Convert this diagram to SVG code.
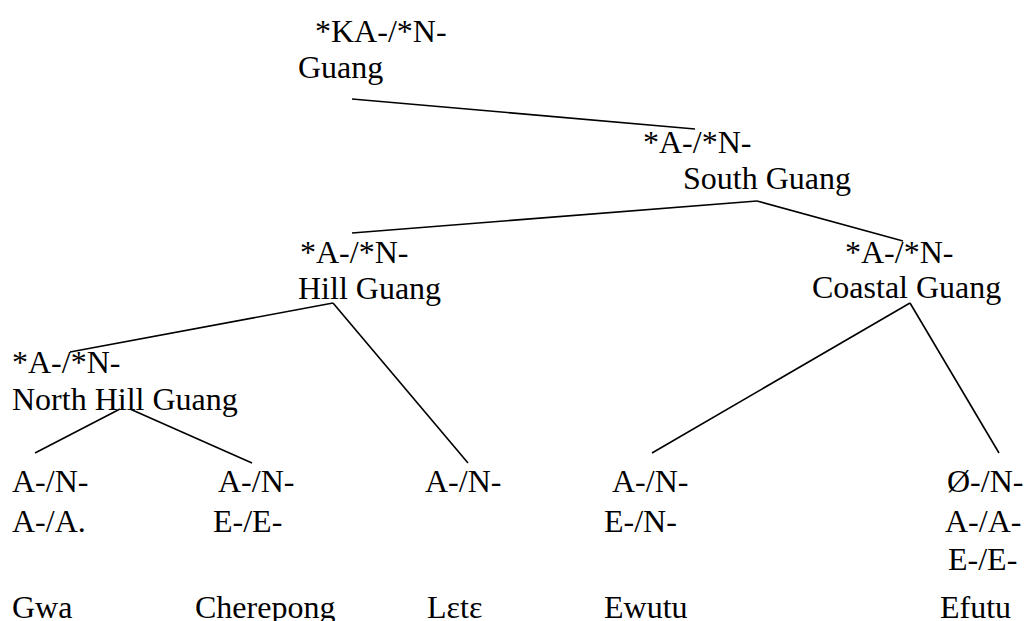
<svg xmlns="http://www.w3.org/2000/svg" width="1024" height="621" viewBox="0 0 1024 621">
<style>
text{font-family:"Liberation Serif","Times New Roman",serif;font-size:32px;fill:#000}
line{stroke:#000;stroke-width:1.6}
</style>
<rect width="1024" height="621" fill="#fff"/>
<g id="connectors">
<line x1="352" y1="99" x2="695" y2="129"/>
<line x1="757" y1="201" x2="352" y2="233"/>
<line x1="757" y1="201" x2="903" y2="241"/>
<line x1="333" y1="303" x2="70" y2="352"/>
<line x1="333" y1="303" x2="468" y2="463"/>
<line x1="910" y1="303" x2="652" y2="453"/>
<line x1="910" y1="303" x2="999" y2="453"/>
<line x1="120" y1="409" x2="35" y2="453"/>
<line x1="130" y1="409" x2="252" y2="463"/>
</g>
<g id="guang"><text x="315" y="42">*KA-/*N-</text><text x="298" y="78">Guang</text></g>
<g id="south-guang"><text x="643" y="153">*A-/*N-</text><text x="683" y="189">South Guang</text></g>
<g id="hill-guang"><text x="300" y="263">*A-/*N-</text><text x="298" y="299">Hill Guang</text></g>
<g id="coastal-guang"><text x="845" y="263">*A-/*N-</text><text x="812" y="298">Coastal Guang</text></g>
<g id="north-hill-guang"><text x="12" y="373">*A-/*N-</text><text x="12" y="410">North Hill Guang</text></g>
<g id="gwa"><text x="12" y="492">A-/N-</text><text x="12" y="532">A-/A.</text><text x="12" y="618">Gwa</text></g>
<g id="cherepong"><text x="218" y="492">A-/N-</text><text x="213" y="532">E-/E-</text><text x="195" y="618">Cherepong</text></g>
<g id="lete"><text x="425" y="492">A-/N-</text><text x="427" y="618">Lεtε</text></g>
<g id="ewutu"><text x="612" y="492">A-/N-</text><text x="604" y="532">E-/N-</text><text x="604" y="618">Ewutu</text></g>
<g id="efutu"><text x="947" y="492">Ø-/N-</text><text x="945" y="532">A-/A-</text><text x="948" y="570">E-/E-</text><text x="940" y="618">Efutu</text></g>
</svg>
